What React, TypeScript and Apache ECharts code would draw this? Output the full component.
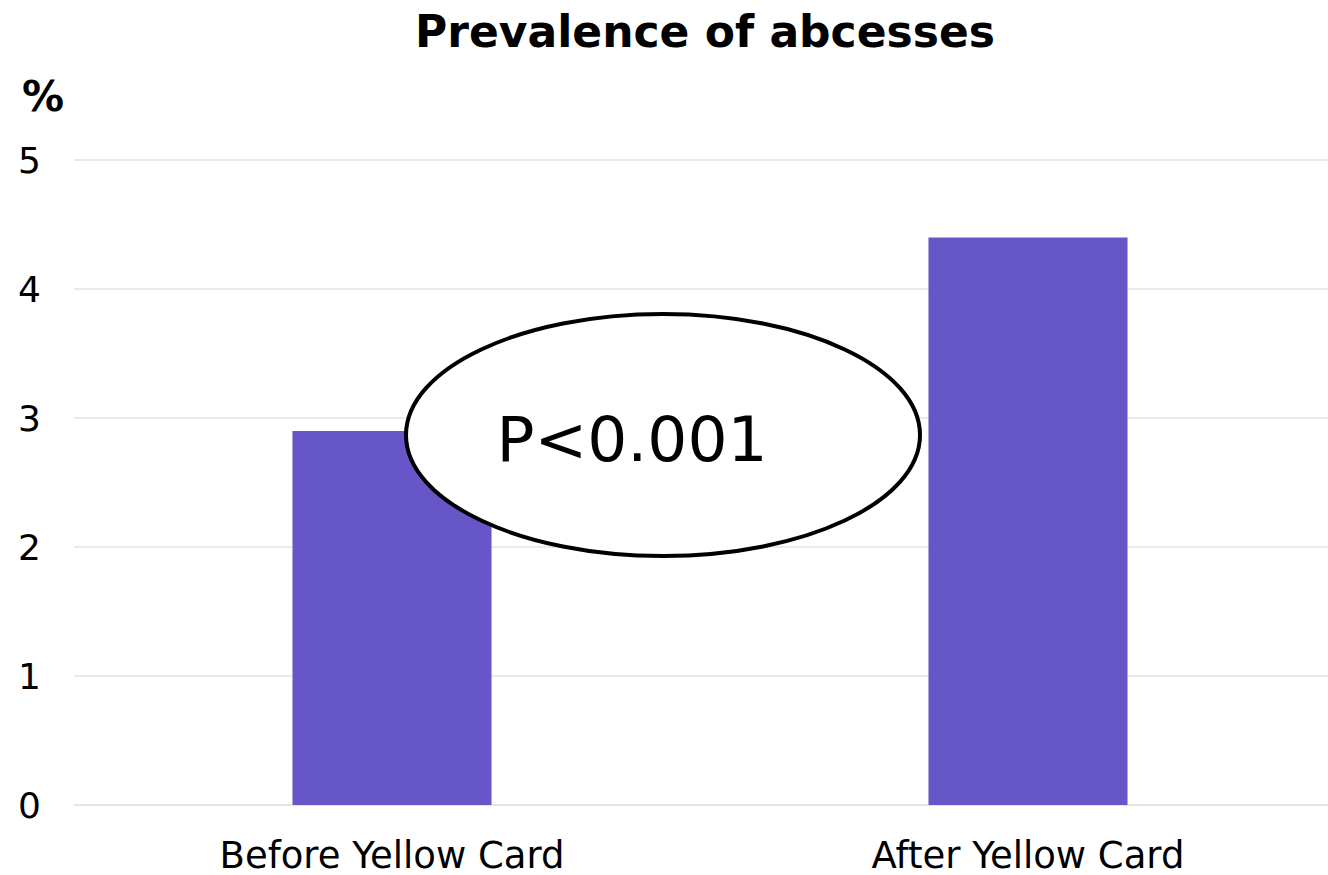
import React, { useEffect, useRef } from "react";
import * as echarts from "echarts";

const categories = ["Before Yellow Card", "After Yellow Card"];
const prevalence = [2.9, 4.4];
const yTicks = { min: 0, max: 5, interval: 1 };
const titleText = "Prevalence of abcesses";
const unitLabel = "%";
const pValueText = "P<0.001";

const FONT = "'DejaVu Sans', Verdana, sans-serif";

export default function App() {
  const ref = useRef<HTMLDivElement>(null);

  useEffect(() => {
    if (!ref.current) return;
    const chart = echarts.init(ref.current, undefined, { renderer: "svg" });
    chart.setOption({
      animation: false,
      backgroundColor: "#ffffff",
      title: {
        text: titleText,
        left: 700,
        top: 4,
        textAlign: "center",
        textStyle: { fontFamily: FONT, fontWeight: "bold", fontSize: 44, color: "#000" },
      },
      // the plot runs a little past the right edge of the visible area
      grid: { left: 74, right: 0, top: 160, bottom: 70, containLabel: false },
      xAxis: {
        type: "category",
        data: categories,
        axisLine: { show: true, lineStyle: { color: "#e3e3e3", width: 1.5 } },
        axisTick: { show: false },
        axisLabel: {
          fontFamily: FONT,
          fontSize: 37,
          lineHeight: 38,
          color: "#000",
          margin: 31,
        },
      },
      yAxis: {
        type: "value",
        min: yTicks.min,
        max: yTicks.max,
        interval: yTicks.interval,
        axisLine: { show: false },
        axisTick: { show: false },
        splitLine: { lineStyle: { color: "#e3e3e3", width: 1.5 } },
        axisLabel: { fontFamily: FONT, fontSize: 36, color: "#000", margin: 33 },
      },
      series: [
        {
          type: "bar",
          data: prevalence,
          barWidth: "31.3%",
          itemStyle: { color: "#6656c8" },
          z: 2,
        },
      ],
      graphic: [
        {
          type: "text",
          left: 22,
          top: 75,
          style: { text: unitLabel, fontFamily: FONT, fontWeight: "bold", fontSize: 42, fill: "#000" },
        },
        {
          type: "ellipse",
          shape: { cx: 663, cy: 435, rx: 257, ry: 121 },
          style: { fill: "#ffffff", stroke: "#000000", lineWidth: 4 },
          z: 100,
        },
        {
          type: "text",
          x: 632,
          y: 439,
          style: {
            text: pValueText,
            fontFamily: FONT,
            fontSize: 63,
            fill: "#000",
            textAlign: "center",
            textVerticalAlign: "middle",
          },
          z: 101,
        },
      ],
    });
    return () => chart.dispose();
  }, []);

  return (
    <div
      style={{
        position: "fixed",
        left: 0,
        top: 0,
        width: 1328,
        height: 875,
        overflow: "hidden",
        background: "#fff",
      }}
    >
      <div ref={ref} style={{ width: 1346, height: 875 }} />
    </div>
  );
}
